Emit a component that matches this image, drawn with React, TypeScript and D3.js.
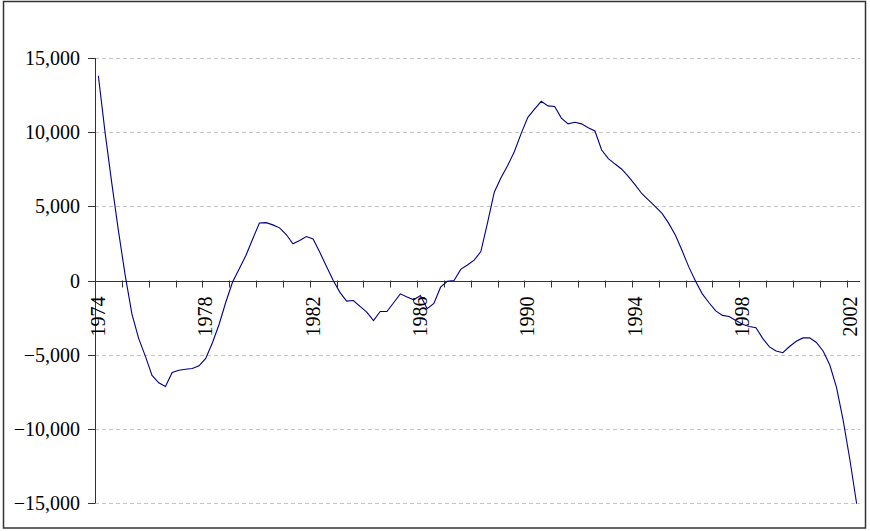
import React from "react";
import * as d3 from "d3";

// Quarterly series, 1974Q1 .. 2002Q2
const startYear = 1974;
const values: number[] = [
  13800, 9990, 6560, 3330, 340, -2250, -3900, -5100,
  -6400, -6900, -7150, -6200, -6050, -5980, -5930, -5750,
  -5250, -4200, -2950, -1450, -100, 800, 1700, 2800,
  3880, 3900, 3750, 3550, 3100, 2470, 2700, 2960,
  2800, 1900, 950, 0, -800, -1390, -1350, -1750,
  -2130, -2700, -2090, -2090, -1500, -900, -1120, -1300,
  -1010, -1900, -1550, -450, -50, 0, 750, 1050,
  1370, 1950, 3900, 5950, 6920, 7750, 8700, 9900,
  11000, 11550, 12080, 11770, 11730, 10950, 10560, 10670,
  10560, 10300, 10080, 8800, 8220, 7850, 7500, 7000,
  6450, 5850, 5420, 4980, 4520, 3850, 3050, 2000,
  900, -50, -900, -1500, -2050, -2350, -2430, -2700,
  -2950, -3100, -3180, -3900, -4480, -4750, -4870, -4450,
  -4100, -3870, -3860, -4180, -4750, -5700, -7200, -9450,
  -12100, -15050,
];
const yTicks: number[] = [-15000, -10000, -5000, 0, 5000, 10000, 15000];
const xLabelYears: number[] = [1974, 1978, 1982, 1986, 1990, 1994, 1998, 2002];
const xTickYears: number[] = d3.range(1974, 2003);

const W = 870;
const H = 531;
const left = 95;
const right = 860;
const top = 58;
const bottom = 503;

export default function App() {
  const x = d3.scaleLinear().domain([1974, 2002.5]).range([left, right]);
  const y = d3.scaleLinear().domain([-15000, 15000]).range([bottom, top]);
  const pts: [number, number][] = values.map((v, i) => [startYear + (i + 0.5) / 4, v]);
  const line = d3
    .line<[number, number]>()
    .x((d) => x(d[0]))
    .y((d) => y(d[1]));
  const fmt = d3.format(",");
  const y0 = y(0);

  return (
    <svg
      width={W}
      height={H}
      style={{ position: "absolute", left: 0, top: 0, background: "#fff" }}
      fontFamily="'Liberation Serif', 'Times New Roman', serif"
    >
      <rect x={0} y={0} width={W} height={H} fill="#fff" />
      <rect x={3.5} y={1.5} width={862} height={526.5} fill="none" stroke="#333" strokeWidth={1.5} />
      {yTicks
        .filter((t) => t !== 0)
        .map((t) => (
          <line
            key={"g" + t}
            x1={left}
            x2={right}
            y1={Math.round(y(t)) + 0.5}
            y2={Math.round(y(t)) + 0.5}
            stroke="#c4c4c4"
            strokeDasharray="4,3"
            strokeWidth={1}
          />
        ))}
      {/* y axis */}
      <line x1={left + 0.5} x2={left + 0.5} y1={top} y2={bottom + 0.5} stroke="#333" strokeWidth={1} />
      {yTicks.map((t) => (
        <g key={"yt" + t}>
          <line
            x1={left - 7}
            x2={left}
            y1={Math.round(y(t)) + 0.5}
            y2={Math.round(y(t)) + 0.5}
            stroke="#333"
            strokeWidth={1}
          />
          <text x={80} y={y(t)} dy="0.35em" textAnchor="end" fontSize={20} fill="#000">
            {fmt(t)}
          </text>
        </g>
      ))}
      {/* x axis at zero */}
      <line x1={left} x2={right} y1={Math.round(y0) + 0.5} y2={Math.round(y0) + 0.5} stroke="#333" strokeWidth={1} />
      {xTickYears.map((yr) => (
        <line
          key={"xt" + yr}
          x1={Math.round(x(yr)) + 0.5}
          x2={Math.round(x(yr)) + 0.5}
          y1={y0}
          y2={y0 + 7}
          stroke="#333"
          strokeWidth={1}
        />
      ))}
      <path d={line(pts) || ""} fill="none" stroke="#000080" strokeWidth={1.1} />
      {xLabelYears.map((yr) => (
        <text
          key={"xl" + yr}
          transform={`translate(${x(yr) + 3},${y0 + 16}) rotate(-90)`}
          dy="0.35em"
          textAnchor="end"
          fontSize={20}
          fill="#000"
        >
          {yr}
        </text>
      ))}
    </svg>
  );
}
